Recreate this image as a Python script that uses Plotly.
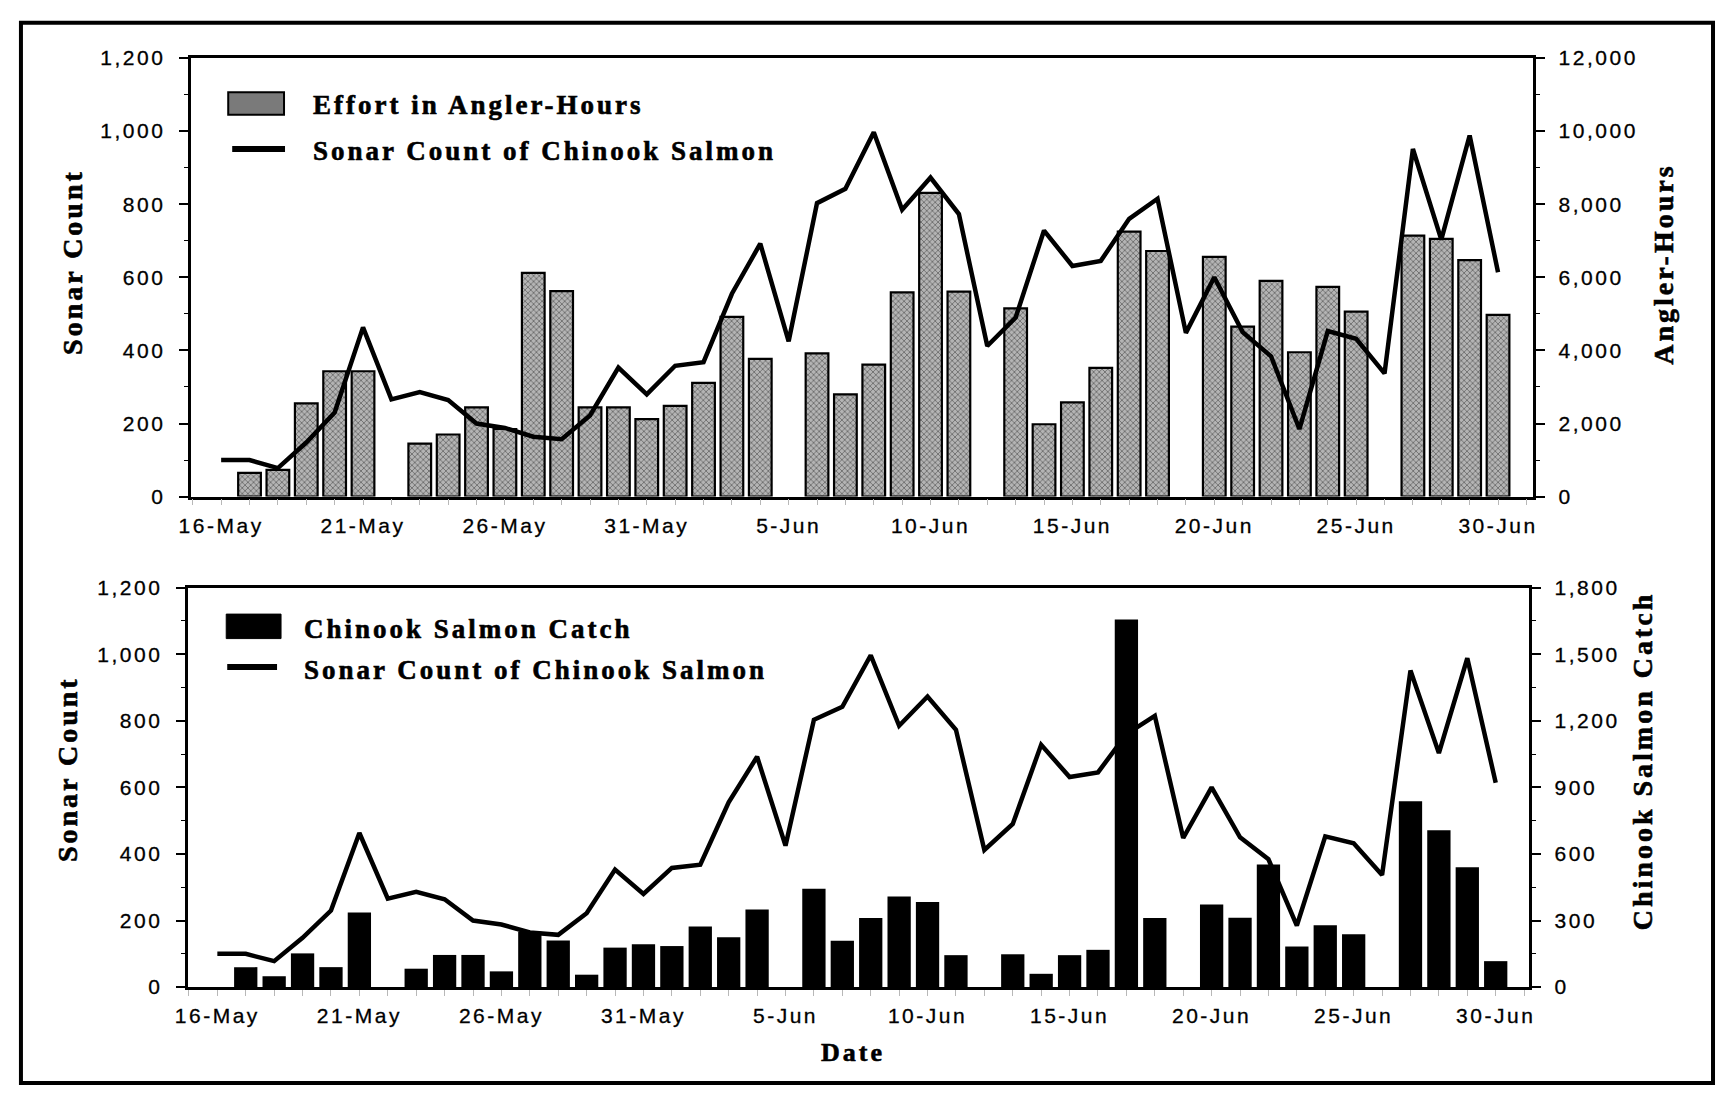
import plotly.graph_objects as go

W, H = 1717, 1097

# Daily observations, 16 May - 30 June
dates = [
    "16-May", "17-May", "18-May", "19-May", "20-May", "21-May", "22-May", "23-May",
    "24-May", "25-May", "26-May", "27-May", "28-May", "29-May", "30-May", "31-May",
    "1-Jun", "2-Jun", "3-Jun", "4-Jun", "5-Jun", "6-Jun", "7-Jun", "8-Jun", "9-Jun",
    "10-Jun", "11-Jun", "12-Jun", "13-Jun", "14-Jun", "15-Jun", "16-Jun", "17-Jun",
    "18-Jun", "19-Jun", "20-Jun", "21-Jun", "22-Jun", "23-Jun", "24-Jun", "25-Jun",
    "26-Jun", "27-Jun", "28-Jun", "29-Jun", "30-Jun",
]

sonar_count = [
    100, 100, 78, 148, 230, 463, 266, 286, 264, 200, 188, 164, 157, 222, 353, 280,
    358, 368, 555, 692, 425, 803, 842, 997, 785, 873, 773, 412, 490, 728, 631, 645,
    760, 815, 448, 600, 450, 384, 185, 453, 432, 337, 951, 703, 988, 614,
]

angler_hours = [
    None, 650, 730, 2550, 3430, 3430, None, 1450, 1700, 2440, 1850, 6120, 5620, 2440, 2440, 2120,
    2480, 3110, 4920, 3770, None, 3920, 2800, 3610, 5590, 8310, 5610, None, 5150, 1980, 2580, 3520,
    7250, 6720, None, 6560, 4650, 5900, 3950, 5740, 5060, None, 7140, 7050, 6470, 4970,
]

chinook_catch = [
    None, 90, 49, 152, 90, 336, None, 83, 145, 145, 71, 250, 210, 56, 178, 193,
    185, 273, 225, 350, None, 443, 209, 311, 408, 383, 144, None, 148, 60, 144, 168,
    1657, 312, None, 372, 313, 552, 183, 279, 238, None, 837, 707, 540, 117,
]

day = list(range(len(dates)))
tick_idx = day[::5]
tick_text = [dates[i] for i in tick_idx]

SERIF = "Liberation Serif"
SANS = "Liberation Sans"
STIPPLE = "#7a7a7a"


def fx(p):
    return p / W


def fy(p):
    return 1 - p / H


fig = go.Figure()

# Upper panel: angler effort bars + sonar line
fig.add_trace(go.Bar(
    x=day, y=angler_hours, xaxis="x", yaxis="y", width=0.8,
    marker=dict(
        color="#b4b4b4",
        line=dict(color="black", width=2.2),
        pattern=dict(shape="x", size=4, solidity=0.35, fgcolor="#111111", fillmode="overlay"),
    ),
))
fig.add_trace(go.Scatter(
    x=day, y=sonar_count, xaxis="x", yaxis="y2", mode="lines",
    line=dict(color="black", width=4.5),
))

# Lower panel: catch bars + sonar line
fig.add_trace(go.Bar(
    x=day, y=chinook_catch, xaxis="x2", yaxis="y3", width=0.82,
    marker=dict(color="black", line=dict(width=0)),
))
fig.add_trace(go.Scatter(
    x=day, y=sonar_count, xaxis="x2", yaxis="y4", mode="lines",
    line=dict(color="black", width=4.5),
))

tick_font = dict(family=SANS, size=21, color="black")


def x_axis(domain, rng, anchor):
    return dict(
        domain=domain, range=rng, anchor=anchor,
        tickmode="array", tickvals=tick_idx, ticktext=tick_text,
        ticks="outside", ticklen=6, tickcolor="#b8b8b8", tickwidth=1,
        minor=dict(dtick=1, tick0=0, ticks="outside", ticklen=6, tickcolor="#b8b8b8", tickwidth=1),
        showline=True, linecolor="black", linewidth=2.5, mirror=True,
        showgrid=False, zeroline=False, tickfont=dict(family=SANS, size=21, color="black"),
        ticklabelstandoff=2,
    )


def y_axis(domain, rng, dtick, side, anchor, overlay=None):
    d = dict(
        range=rng, side=side, anchor=anchor,
        tickmode="linear", tick0=0, dtick=dtick, tickformat=",",
        ticks="outside", ticklen=10, tickcolor="black", tickwidth=1.5,
        minor=dict(dtick=dtick / 2, tick0=0, ticks="outside", ticklen=5, tickcolor="black", tickwidth=1),
        showline=True, linecolor="black", linewidth=2.5,
        showgrid=False, zeroline=False, tickfont=tick_font,
        ticklabelstandoff=9,
    )
    if overlay:
        d["overlaying"] = overlay
    else:
        d["domain"] = domain
    return d


top_dom = [fy(495), fy(47)]
bot_dom = [fy(996), fy(588)]

fig.update_layout(
    width=W, height=H,
    margin=dict(l=0, r=0, t=0, b=0),
    paper_bgcolor="white", plot_bgcolor="white",
    showlegend=False,
    xaxis=x_axis([fx(186), fx(1532)], [-1.05, 46.22], "y"),
    xaxis2=x_axis([fx(183), fx(1528)], [-1.02, 46.16], "y3"),
    yaxis=y_axis(top_dom, [0, 12000], 2000, "right", "x"),
    yaxis2=y_axis(None, [0, 1200], 200, "left", "x", overlay="y"),
    yaxis3=y_axis(bot_dom, [0, 1800], 300, "right", "x2"),
    yaxis4=y_axis(None, [0, 1200], 200, "left", "x2", overlay="y3"),
)


def label(text, x, y, size=28, angle=0, left=False):
    fig.add_annotation(
        text=f"<b>{text}</b>", x=fx(x), y=fy(y), xref="paper", yref="paper",
        showarrow=False, textangle=angle,
        xanchor="left" if left else "center", yanchor="middle",
        align="left" if left else "center",
        font=dict(family=SERIF, size=size, color="black"),
    )


# Axis titles
label("Sonar Count", 67, 255, angle=-90)
label("Angler-Hours", 1663, 258, angle=-90)
label("Sonar Count", 62, 773, angle=-90)
label("Chinook Salmon Catch", 1643, 765, angle=-90)
label("Date", 850, 1063, size=26)

# Legend entries
label("Effort in Angler-Hours", 306, 95, size=27, left=True)
label("Sonar Count of Chinook Salmon", 306, 142, size=27, left=True)
label("Chinook Salmon Catch", 297, 630, size=27, left=True)
label("Sonar Count of Chinook Salmon", 297, 672, size=27, left=True)

shapes = [
    # legend keys
    dict(type="rect", x0=fx(223), x1=fx(279), y0=fy(105), y1=fy(82),
         fillcolor=STIPPLE, line=dict(color="black", width=2)),
    dict(type="line", x0=fx(227), x1=fx(280), y0=fy(140), y1=fy(140),
         line=dict(color="black", width=6)),
    dict(type="rect", x0=fx(221), x1=fx(276), y0=fy(640), y1=fy(615),
         fillcolor="black", line=dict(color="black", width=1)),
    dict(type="line", x0=fx(222), x1=fx(272), y0=fy(669), y1=fy(669),
         line=dict(color="black", width=6)),
    # outer frame
    dict(type="rect", x0=fx(15), x1=fx(1713), y0=fy(1094), y1=fy(11),
         line=dict(color="black", width=4), fillcolor="rgba(0,0,0,0)"),
]
for s in shapes:
    s.update(xref="paper", yref="paper", layer="above")
fig.update_layout(shapes=shapes)

# Page fits the figure exactly; letter spacing and a slightly heavier stroke
# for the printed-style lettering
page_js = """
document.body.style.margin = '0';
document.body.style.overflow = 'hidden';
var gd = document.getElementById('{plot_id}');
function spaceText() {
  gd.querySelectorAll('g[class*="tick"] > text').forEach(function (t) {
    t.style.letterSpacing = '2.5px';
    t.style.stroke = 'black';
    t.style.strokeWidth = '0.3px';
  });
  gd.querySelectorAll('.annotation-text').forEach(function (t) {
    t.style.letterSpacing = '3px';
    t.style.stroke = 'black';
    t.style.strokeWidth = '0.6px';
  });
}
spaceText();
gd.on('plotly_afterplot', spaceText);
"""

fig.write_html("out.html", post_script=page_js)
